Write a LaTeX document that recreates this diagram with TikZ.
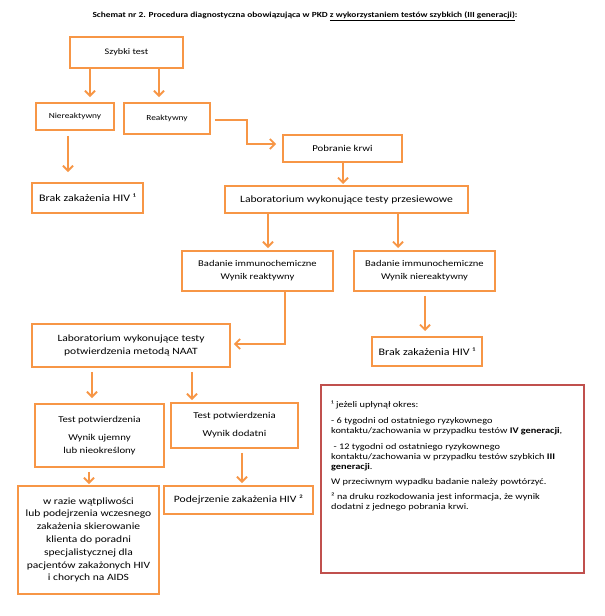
\documentclass[tikz,border=0pt]{standalone}
\usepackage{fontspec}
\setmainfont{Carlito}[FakeStretch=1.2]
\usetikzlibrary{arrows.meta}
\definecolor{orng}{HTML}{F79646}
\definecolor{redb}{HTML}{C0504D}
\newcommand{\fsz}[2]{\fontsize{#1}{#2}\selectfont}
\begin{document}
\begin{tikzpicture}[x=1pt,y=-1pt,
  box/.style={draw=orng,line width=1.8pt,inner sep=1pt,align=center,font=\fsz{9.5}{12.5}},
  arr/.style={draw=orng,line width=1.8pt,-{Straight Barb[length=5pt,width=10pt]}},
  ]
\useasboundingbox (0,0) rectangle (605,616);
\fill[white] (0,0) rectangle (605,616);
\node[font=\bfseries\fsz{7.8}{9}] (title) at (305,16) {Schemat nr 2. Procedura diagnostyczna obowiązująca w PKD \underline{z wykorzystaniem testów szybkich (III generacji)}:};
\node[box,font=\fsz{8.5}{10},minimum width=113pt,minimum height=31pt] (szybki) at (126.5,52.5) {Szybki test};
\node[box,font=\fsz{7.8}{10},minimum width=78pt,minimum height=27pt] (nier) at (75,116.5) {Niereaktywny};
\node[box,font=\fsz{7.8}{10},minimum width=86pt,minimum height=31pt] (reak) at (167,118.5) {Reaktywny};
\node[box,font=\fsz{10}{12},minimum width=111pt,minimum height=30pt] (brak1) at (87.5,198) {Brak zakażenia HIV ¹};
\node[box,font=\fsz{9}{11},minimum width=119pt,minimum height=27pt] (pobr) at (342.5,148.5) {Pobranie krwi};
\node[box,font=\fsz{9.7}{12},minimum width=243pt,minimum height=27pt] (labp) at (346.5,199.5) {\raisebox{-1.5pt}{Laboratorium wykonujące testy przesiewowe}};
\node[box,font=\fsz{8.8}{13},minimum width=151pt,minimum height=40pt] (badr) at (257.5,271) {Badanie immunochemiczne\\Wynik reaktywny};
\node[box,font=\fsz{8.8}{13},minimum width=141pt,minimum height=40pt] (badn) at (424.5,271) {Badanie immunochemiczne\\Wynik niereaktywny};
\node[box,font=\fsz{10}{12},minimum width=110pt,minimum height=29pt] (brak2) at (427,351.5) {Brak zakażenia HIV ¹};
\node[box,font=\fsz{9.6}{12.5},minimum width=198pt,minimum height=43pt] (naat) at (131,345.5) {Laboratorium wykonujące testy\\potwierdzenia metodą NAAT};
\node[box,font=\fsz{9}{13},minimum width=129pt,minimum height=63pt] (tpu) at (99.5,435.5) {Test potwierdzenia\\[5pt]Wynik ujemny\\lub nieokreślony};
\node[box,font=\fsz{9}{13},minimum width=127pt,minimum height=45pt] (tpd) at (234.5,425.5) {Test potwierdzenia\\[5pt]Wynik dodatni};
\node[box,font=\fsz{9.6}{12.8},minimum width=141pt,minimum height=108pt] (wraz) at (88.5,540) {w razie wątpliwości\\lub podejrzenia wczesnego\\zakażenia skierowanie\\klienta do poradni\\specjalistycznej dla\\pacjentów zakażonych HIV\\i chorych na AIDS};
\node[box,font=\fsz{9.7}{12},minimum width=149pt,minimum height=28pt] (podej) at (238.5,500) {Podejrzenie zakażenia HIV ²};
\node[draw=redb,line width=1.6pt,minimum width=263pt,minimum height=188pt] (note) at (452.5,479) {};
\node[anchor=north west,inner sep=0pt,align=left,font=\fsz{8.6}{10}] (notetext) at (331,401) {%
¹ jeżeli upłynął okres:\\[6pt]
- 6 tygodni od ostatniego ryzykownego\\
kontaktu/zachowania w przypadku testów \textbf{IV generacji},\\[6pt]
\ - 12 tygodni od ostatniego ryzykownego\\
kontaktu/zachowania w przypadku testów szybkich \textbf{III}\\
\textbf{generacji}.\\[5pt]
W przeciwnym wypadku badanie należy powtórzyć.\\[5pt]
² na druku rozkodowania jest informacja, że wynik\\
dodatni z jednego pobrania krwi.};
% connectors
\draw[arr] (szybki.south -| 90,0) -- (90,97);
\draw[arr] (szybki.south -| 159,0) -- (159,97);
\draw[arr] (nier.south -| 68,0) ++(0,5) -- (68,172);
\draw[arr] ([xshift=4pt,yshift=-1.5pt]reak.east) -- ++(32,0) |- ([xshift=-6pt,yshift=4.5pt]pobr.west);
\draw[arr] (pobr.south -| 343,0) -- (343,184);
\draw[arr] (labp.south -| 268,0) -- (268,248);
\draw[arr] (labp.south -| 398,0) -- (398,248);
\draw[arr] (badr.south -| 285,0) |- ([xshift=3pt,yshift=1.5pt]naat.east);
\draw[arr] (badn.south -| 425,0) ++(0,4) -- (425,331);
\draw[arr] (naat.south -| 92,0) ++(0,4) -- (92,398);
\draw[arr] (naat.south -| 192,0) ++(0,4) -- (192,400);
\draw[arr] (tpu.south -| 89,0) ++(0,4) -- (89,484);
\draw[arr] (tpd.south -| 242,0) ++(0,4) -- (242,483);
\end{tikzpicture}
\end{document}
